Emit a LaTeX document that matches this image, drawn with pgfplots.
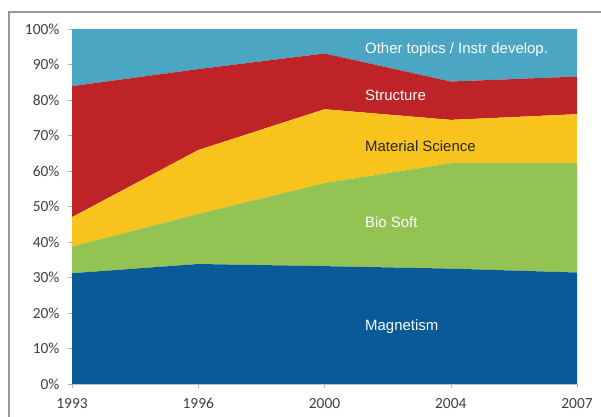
\documentclass[border=0pt]{standalone}
\usepackage{pgfplots}
\pgfplotsset{compat=1.18}
\usepackage{fontspec}
\setmainfont{Carlito}
\newfontfamily\lab{Liberation Sans}
\definecolor{cMag}{HTML}{0B5A98}
\definecolor{cBio}{HTML}{92C353}
\definecolor{cMat}{HTML}{F7C31C}
\definecolor{cStr}{HTML}{BE2327}
\definecolor{cOth}{HTML}{4AA6C2}
\definecolor{tickgray}{HTML}{404040}
\begin{document}
\begin{tikzpicture}
\useasboundingbox (0,0) rectangle (601bp,417bp);
\draw[gray!80, line width=1.2bp] (9bp,0) -- (9bp,405bp) -- (601bp,405bp);
\begin{axis}[
  at={(72bp,33bp)}, anchor=south west,
  scale only axis, width=505bp, height=355bp,
  xmin=0, xmax=4, ymin=0, ymax=100,
  stack plots=y,
  axis line style={draw=gray!50},
  axis x line*=bottom, axis y line*=left,
  xtick={0,1,2,3,4},
  xticklabels={1993,1996,2000,2004,2007},
  ytick={0,10,...,100},
  yticklabels={0\%,10\%,20\%,30\%,40\%,50\%,60\%,70\%,80\%,90\%,100\%},
  tick align=outside, major tick length=4bp,
  tick style={draw=gray!60},
  tick label style={font=\fontsize{15.5}{17}\selectfont, text=tickgray},
  /pgf/number format/assume math mode=true,
  xticklabel style={yshift=-7bp},
  yticklabel style={xshift=-5bp},
  clip=false,
]
\addplot[fill=cMag, draw=none] coordinates {(0,31.2) (1,33.8) (2,33.2) (3,32.5) (4,31.4)} \closedcycle;
\addplot[fill=cBio, draw=none] coordinates {(0,7.5) (1,14.1) (2,23.4) (3,29.7) (4,30.8)} \closedcycle;
\addplot[fill=cMat, draw=none] coordinates {(0,8.3) (1,18.0) (2,20.8) (3,12.2) (4,13.8)} \closedcycle;
\addplot[fill=cStr, draw=none] coordinates {(0,36.9) (1,22.8) (2,15.7) (3,10.8) (4,10.6)} \closedcycle;
\addplot[fill=cOth, draw=none] coordinates {(0,16.1) (1,11.3) (2,6.9) (3,14.8) (4,13.4)} \closedcycle;
\end{axis}
\begin{scope}[every node/.style={anchor=west, inner sep=0pt, font=\lab\fontsize{15}{17}\selectfont}]
\node[text=white] at (365bp,367bp) {Other topics / Instr develop.};
\node[text=white] at (365bp,322bp) {Structure};
\node[text=black!85] at (365bp,271bp) {Material Science};
\node[text=white] at (365bp,195bp) {Bio Soft};
\node[text=white] at (365bp,90bp) {Magnetism};
\end{scope}
\end{tikzpicture}
\end{document}
